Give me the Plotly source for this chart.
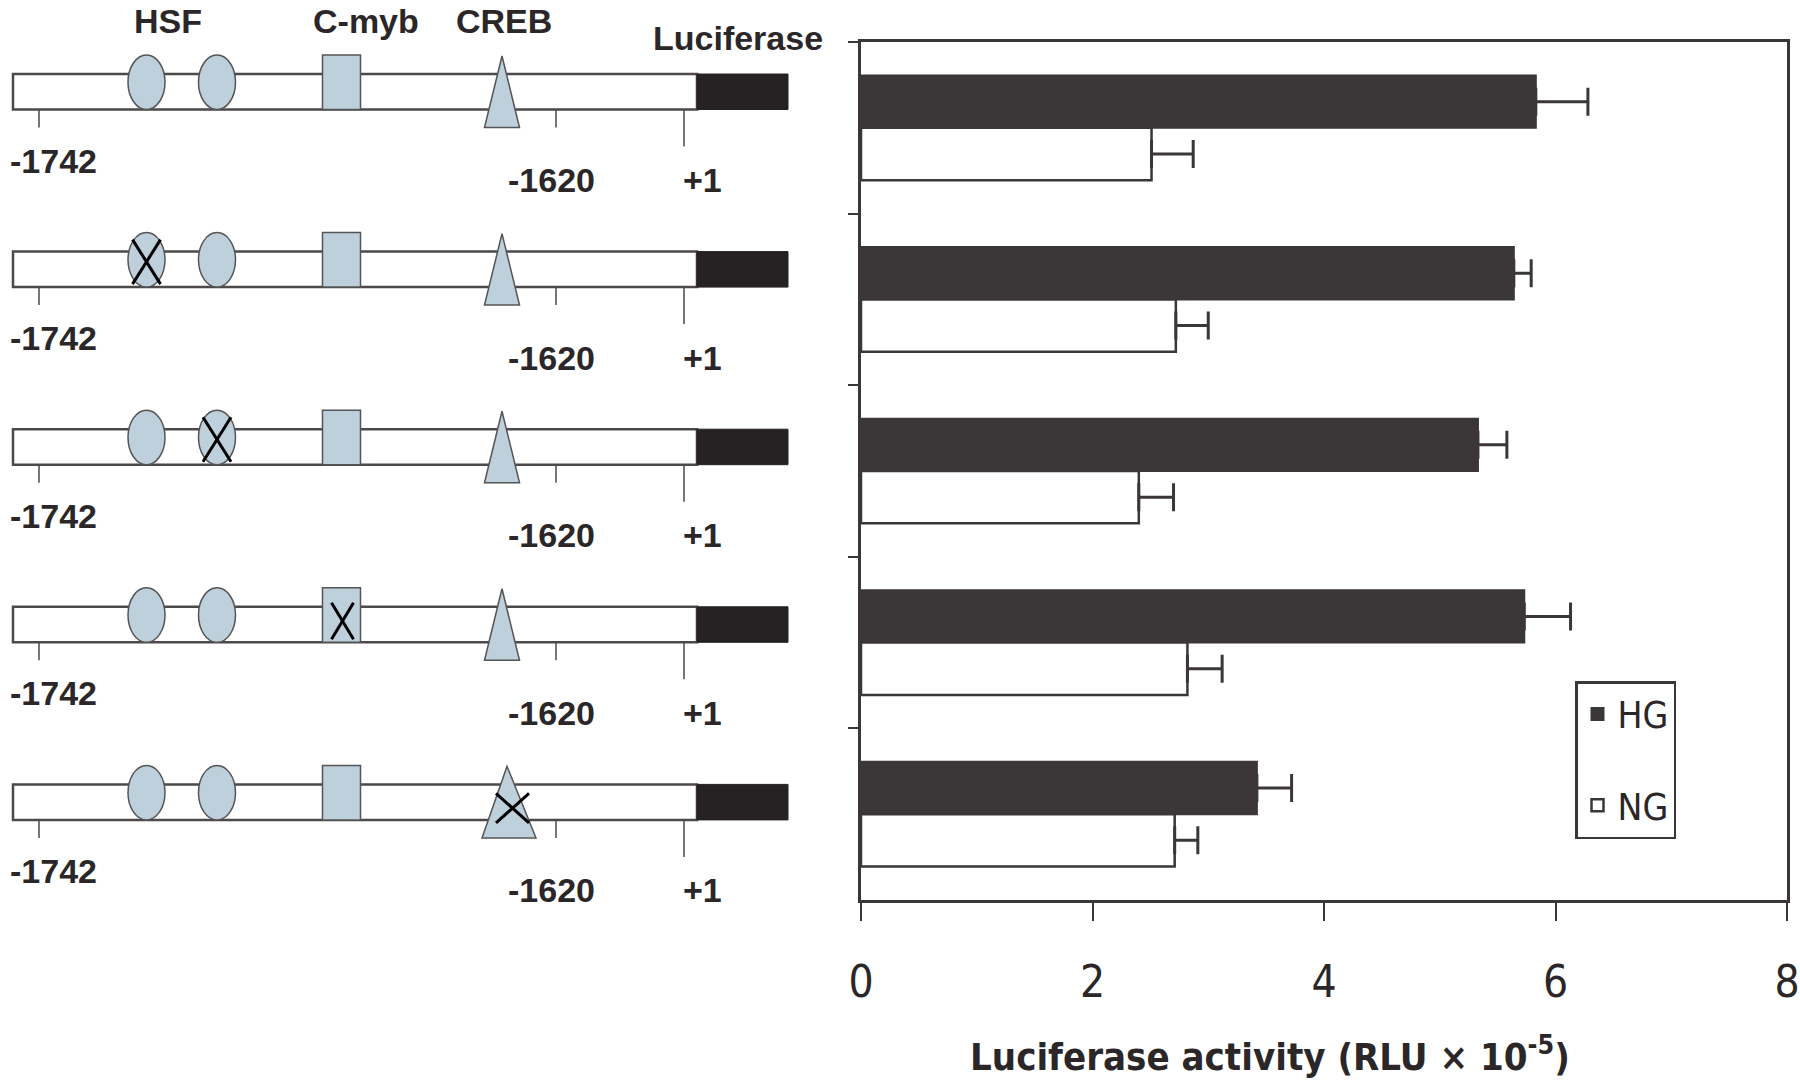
import plotly.graph_objects as go

# ---------------- data ----------------
constructs = ["WT", "HSF-1 mut", "HSF-2 mut", "C-myb mut", "CREB mut"]
series_names = ["HG", "NG"]
hg_values = [5.83, 5.64, 5.33, 5.73, 3.42]
hg_errors = [0.45, 0.15, 0.25, 0.40, 0.30]
ng_values = [2.51, 2.72, 2.40, 2.82, 2.71]
ng_errors = [0.36, 0.28, 0.30, 0.30, 0.20]
x_ticks = [0, 2, 4, 6, 8]
x_title = "Luciferase activity (RLU × 10<sup>-5</sup>)"

site_headers = ["HSF", "C-myb", "CREB"]
site_kinds = ["HSF", "HSF", "C-myb", "CREB"]
mutated_site = [None, 0, 1, 2, 3]          # which site is mutated in each construct
position_labels = ["-1742", "-1620", "+1"]
reporter_label = "Luciferase"

# ---------------- styling / layout constants ----------------
W, H = 1800, 1085
DARK = "#3b3637"
LINE = "#4d4849"
SITE_FILL = "#bed0dc"
NARROW = "DejaVu Sans Condensed, Liberation Sans Narrow, Arial Narrow, sans-serif"
BOLD = "Liberation Sans, Arial, sans-serif"

# schematic geometry (diagram units = pixels of the left panel)
DIAG_PIX = 840
BOX_L, BOX_R, LUC_R = 13, 697, 788
ROW0, PITCH, BOX_H = 74, 177.6, 35.5
SITE_X = [146.5, 217, 341.5, 502]
SITE_HW = 18.5
SITE_RISE = 19
TRI_HW, TRI_HW_MUT = 17.5, 27
POS_TICK_X = [39, 556, 684]
POS_TICK_LEN = [18, 18, 37]
HEADER_X = [168, 366, 504]

fig = go.Figure()

fig.add_trace(go.Bar(
    name=series_names[0], y=constructs, x=hg_values, orientation="h",
    marker=dict(color=DARK, line=dict(color=DARK, width=2)),
    error_x=dict(type="data", array=hg_errors, arrayminus=[0] * len(hg_errors),
                 symmetric=False, color=DARK, thickness=3, width=14),
    legendgroup="HG",
))
fig.add_trace(go.Bar(
    name=series_names[1], y=constructs, x=ng_values, orientation="h",
    marker=dict(color="white", line=dict(color=DARK, width=2.5)),
    error_x=dict(type="data", array=ng_errors, arrayminus=[0] * len(ng_errors),
                 symmetric=False, color=DARK, thickness=3, width=14),
    legendgroup="NG",
))

# ---------------- left schematic ----------------
shapes = []
annotations = []


def s(**kw):
    base = dict(xref="x2", yref="y2", layer="above")
    base.update(kw)
    shapes.append(base)


for i, name in enumerate(constructs):
    t = ROW0 + i * PITCH
    b = t + BOX_H
    s(type="rect", x0=BOX_L, x1=BOX_R, y0=t, y1=b, fillcolor="white",
      line=dict(color=LINE, width=2.5))
    s(type="rect", x0=BOX_R, x1=LUC_R, y0=t, y1=b, fillcolor="#262223",
      line=dict(color="#262223", width=1))
    for tx, tl in zip(POS_TICK_X, POS_TICK_LEN):
        s(type="line", x0=tx, x1=tx, y0=b, y1=b + tl, line=dict(color=LINE, width=1.5))
    for k, kind in enumerate(site_kinds):
        cx = SITE_X[k]
        mut = mutated_site[i] == k
        if kind == "HSF":
            s(type="circle", x0=cx - SITE_HW, x1=cx + SITE_HW, y0=t - SITE_RISE, y1=b,
              fillcolor=SITE_FILL, line=dict(color="#555", width=1.5))
            if mut:
                for (a0, a1) in [((cx - 14, t - 12), (cx + 14, b - 3)),
                                 ((cx + 14, t - 12), (cx - 14, b - 3))]:
                    s(type="line", x0=a0[0], y0=a0[1], x1=a1[0], y1=a1[1],
                      line=dict(color="black", width=3))
        elif kind == "C-myb":
            s(type="rect", x0=cx - SITE_HW - 0.5, x1=cx + SITE_HW + 0.5, y0=t - SITE_RISE, y1=b,
              fillcolor=SITE_FILL, line=dict(color="#555", width=1.5))
            if mut:
                for (a0, a1) in [((cx - 10, t - 4), (cx + 12, b - 3)),
                                 ((cx + 12, t - 4), (cx - 10, b - 3))]:
                    s(type="line", x0=a0[0], y0=a0[1], x1=a1[0], y1=a1[1],
                      line=dict(color="black", width=3))
        else:  # CREB triangle
            hw = TRI_HW_MUT if mut else TRI_HW
            ax = cx + (7 if mut else 0)
            path = (f"M {ax - hw},{b + 18} L {ax + hw},{b + 18} "
                    f"L {ax - (2 if mut else 0)},{t - 18} Z")
            s(type="path", path=path, fillcolor=SITE_FILL, line=dict(color="#555", width=1.5))
            if mut:
                for (a0, a1) in [((ax - 13, t + 9), (ax + 20, b + 3)),
                                 ((ax + 20, t + 9), (ax - 13, b + 3))]:
                    s(type="line", x0=a0[0], y0=a0[1], x1=a1[0], y1=a1[1],
                      line=dict(color="black", width=3))
    lab_font = dict(family=BOLD, size=34, color="#2b2728")
    annotations.append(dict(xref="x2", yref="y2", x=53, y=t + 86.5, text=f"<b>{position_labels[0]}</b>",
                            showarrow=False, xanchor="center", yanchor="middle", font=lab_font))
    annotations.append(dict(xref="x2", yref="y2", x=551, y=t + 106, text=f"<b>{position_labels[1]}</b>",
                            showarrow=False, xanchor="center", yanchor="middle", font=lab_font))
    annotations.append(dict(xref="x2", yref="y2", x=702, y=t + 106, text=f"<b>{position_labels[2]}</b>",
                            showarrow=False, xanchor="center", yanchor="middle", font=lab_font))

hdr_font = dict(family=BOLD, size=34, color="#2b2728")
for hx, ht in zip(HEADER_X, site_headers):
    annotations.append(dict(xref="x2", yref="y2", x=hx, y=21, text=f"<b>{ht}</b>",
                            showarrow=False, xanchor="center", yanchor="middle", font=hdr_font))
annotations.append(dict(xref="x2", yref="y2", x=738, y=38, text=f"<b>{reporter_label}</b>",
                        showarrow=False, xanchor="center", yanchor="middle", font=hdr_font))

annotations.append(dict(xref="paper", yref="paper", x=1270 / W, y=1 - 1054 / H, text=f"<b>{x_title}</b>",
                        showarrow=False, xanchor="center", yanchor="middle",
                        font=dict(family=NARROW, size=38, color="#2b2728")))

fig.update_layout(
    width=W, height=H,
    margin=dict(l=0, r=0, t=0, b=0, autoexpand=False),
    paper_bgcolor="white", plot_bgcolor="rgba(0,0,0,0)",
    barmode="group", bargap=0.39, bargroupgap=0,
    showlegend=True,
    legend=dict(x=1575 / W, y=1 - 681 / H, xanchor="left", yanchor="top",
                bordercolor=DARK, borderwidth=2.5, bgcolor="white",
                font=dict(family=NARROW, size=37, color="#2b2728"),
                tracegroupgap=40, itemwidth=30),
    xaxis=dict(domain=[861 / W, 1787 / W], range=[0, 8], tickvals=x_ticks,
               ticks="outside", ticklen=18, tickwidth=2, tickcolor=DARK,
               showline=True, linecolor=DARK, linewidth=2.5, mirror=True,
               showgrid=False, zeroline=False, ticklabelstandoff=23,
               ticklabeloverflow="allow", automargin=False,
               tickfont=dict(family=NARROW, size=44, color="#2b2728"), anchor="y"),
    yaxis=dict(domain=[1 - 900 / H, 1 - 42 / H], type="category", autorange="reversed",
               tickson="boundaries", ticks="outside", ticklen=10, tickwidth=2, tickcolor=DARK,
               showticklabels=False, showline=True, linecolor=DARK, linewidth=2.5,
               mirror=True, showgrid=False, zeroline=False, anchor="x", automargin=False),
    xaxis2=dict(domain=[0, DIAG_PIX / W], range=[0, DIAG_PIX],
                visible=False, anchor="y2", fixedrange=True, automargin=False),
    yaxis2=dict(domain=[0, 1], range=[H, 0], visible=False, anchor="x2", fixedrange=True,
                automargin=False),
    shapes=shapes, annotations=annotations,
)

fig.write_html(
    "out.html",
    config={"displayModeBar": False},
    post_script="document.body.style.margin='0';document.body.style.padding='0';"
                "document.documentElement.style.overflow='hidden';",
)
